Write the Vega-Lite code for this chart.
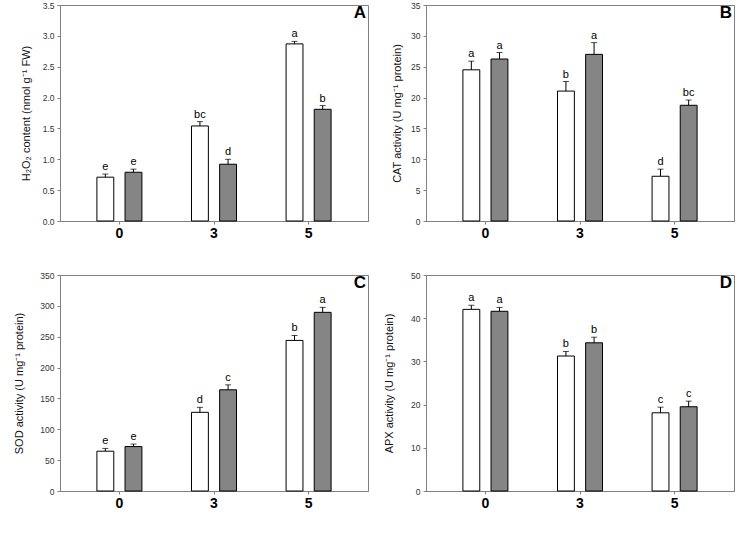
{
  "$schema": "https://vega.github.io/schema/vega-lite/v6.json",
  "padding": {"left": 13, "top": 0, "right": 5, "bottom": 5},
  "background": "#ffffff",
  "config": {
    "font": "Liberation Sans",
    "view": {"stroke": "#808080", "strokeWidth": 1},
    "axis": {"domainColor": "#808080", "tickColor": "#808080", "tickSize": 3, "grid": false, "labelColor": "#333333", "titleColor": "#111111", "labelFontSize": 8.5, "labelPadding": 3},
    "axisX": {"labelAngle": 0, "labelFontSize": 14, "labelFontWeight": "bold", "labelColor": "#000000", "labelPadding": 2, "titleFontSize": 10, "titleFontWeight": "bold", "titlePadding": 6, "title": "storage time(week)"},
    "axisY": {"titleFontSize": 11, "titleFontWeight": "normal"},
    "title": {"fontSize": 17, "fontWeight": "bold", "color": "#000000", "anchor": "end", "orient": "top", "offset": -21, "dx": -2, "frame": "group"}
  },
  "data": {"values": [
    {"panel": "A", "week": "0", "group": "ctrl", "value": 0.71, "upper": 0.76, "letter": "e"},
    {"panel": "A", "week": "0", "group": "trt", "value": 0.79, "upper": 0.84, "letter": "e"},
    {"panel": "A", "week": "3", "group": "ctrl", "value": 1.54, "upper": 1.61, "letter": "bc"},
    {"panel": "A", "week": "3", "group": "trt", "value": 0.92, "upper": 1.0, "letter": "d"},
    {"panel": "A", "week": "5", "group": "ctrl", "value": 2.87, "upper": 2.91, "letter": "a"},
    {"panel": "A", "week": "5", "group": "trt", "value": 1.81, "upper": 1.87, "letter": "b"},
    {"panel": "B", "week": "0", "group": "ctrl", "value": 24.5, "upper": 25.9, "letter": "a"},
    {"panel": "B", "week": "0", "group": "trt", "value": 26.25, "upper": 27.3, "letter": "a"},
    {"panel": "B", "week": "3", "group": "ctrl", "value": 21.05, "upper": 22.6, "letter": "b"},
    {"panel": "B", "week": "3", "group": "trt", "value": 27.0, "upper": 28.9, "letter": "a"},
    {"panel": "B", "week": "5", "group": "ctrl", "value": 7.25, "upper": 8.4, "letter": "d"},
    {"panel": "B", "week": "5", "group": "trt", "value": 18.75, "upper": 19.6, "letter": "bc"},
    {"panel": "C", "week": "0", "group": "ctrl", "value": 64.5, "upper": 69, "letter": "e"},
    {"panel": "C", "week": "0", "group": "trt", "value": 72, "upper": 76, "letter": "e"},
    {"panel": "C", "week": "3", "group": "ctrl", "value": 127.5, "upper": 135.5, "letter": "d"},
    {"panel": "C", "week": "3", "group": "trt", "value": 164, "upper": 172, "letter": "c"},
    {"panel": "C", "week": "5", "group": "ctrl", "value": 244, "upper": 252, "letter": "b"},
    {"panel": "C", "week": "5", "group": "trt", "value": 289.5, "upper": 297.5, "letter": "a"},
    {"panel": "D", "week": "0", "group": "ctrl", "value": 42.05, "upper": 43.0, "letter": "a"},
    {"panel": "D", "week": "0", "group": "trt", "value": 41.6, "upper": 42.5, "letter": "a"},
    {"panel": "D", "week": "3", "group": "ctrl", "value": 31.25, "upper": 32.3, "letter": "b"},
    {"panel": "D", "week": "3", "group": "trt", "value": 34.3, "upper": 35.6, "letter": "b"},
    {"panel": "D", "week": "5", "group": "ctrl", "value": 18.1, "upper": 19.4, "letter": "c"},
    {"panel": "D", "week": "5", "group": "trt", "value": 19.5, "upper": 20.8, "letter": "c"}
  ]},
  "columns": 2,
  "bounds": "flush",
  "spacing": {"row": 54, "column": 58},
  "concat": [
    {
      "width": 308, "height": 216,
      "title": {"text": "A"},
      "transform": [{"filter": "datum.panel === 'A'"}],
      "encoding": {
        "x": {"field": "week", "type": "nominal", "sort": ["0", "3", "5"], "scale": {"paddingInner": 0.524, "paddingOuter": 0.39}},
        "xOffset": {"field": "group", "type": "nominal", "sort": ["ctrl", "trt"], "scale": {"paddingInner": 0.4, "paddingOuter": 0}}
      },
      "layer": [
        {"mark": {"type": "bar", "stroke": "#000000", "strokeWidth": 1},
         "encoding": {
           "y": {"field": "value", "type": "quantitative", "scale": {"domain": [0, 3.5], "nice": false}, "axis": {"title": "H₂O₂ content (nmol g⁻¹ FW)", "values": [0, 0.5, 1, 1.5, 2, 2.5, 3, 3.5], "format": ".1f", "titlePadding": 11}},
           "fill": {"field": "group", "type": "nominal", "scale": {"domain": ["ctrl", "trt"], "range": ["#ffffff", "#858585"]}, "legend": null}}},
        {"mark": {"type": "rule", "color": "#000000"}, "encoding": {"y": {"field": "value", "type": "quantitative", "axis": {"title": "H₂O₂ content (nmol g⁻¹ FW)", "values": [0, 0.5, 1, 1.5, 2, 2.5, 3, 3.5], "format": ".1f", "titlePadding": 11}}, "y2": {"field": "upper"}}},
        {"mark": {"type": "tick", "color": "#000000", "size": 6, "thickness": 1}, "encoding": {"y": {"field": "upper", "type": "quantitative", "axis": {"title": "H₂O₂ content (nmol g⁻¹ FW)", "values": [0, 0.5, 1, 1.5, 2, 2.5, 3, 3.5], "format": ".1f", "titlePadding": 11}}}},
        {"mark": {"type": "text", "dy": -4, "baseline": "alphabetic", "fontSize": 11, "color": "#000000"}, "encoding": {"y": {"field": "upper", "type": "quantitative", "axis": {"title": "H₂O₂ content (nmol g⁻¹ FW)", "values": [0, 0.5, 1, 1.5, 2, 2.5, 3, 3.5], "format": ".1f", "titlePadding": 11}}, "text": {"field": "letter"}}}
      ]
    },
    {
      "width": 308, "height": 216,
      "title": {"text": "B"},
      "transform": [{"filter": "datum.panel === 'B'"}],
      "encoding": {
        "x": {"field": "week", "type": "nominal", "sort": ["0", "3", "5"], "scale": {"paddingInner": 0.524, "paddingOuter": 0.39}},
        "xOffset": {"field": "group", "type": "nominal", "sort": ["ctrl", "trt"], "scale": {"paddingInner": 0.4, "paddingOuter": 0}}
      },
      "layer": [
        {"mark": {"type": "bar", "stroke": "#000000", "strokeWidth": 1},
         "encoding": {
           "y": {"field": "value", "type": "quantitative", "scale": {"domain": [0, 35], "nice": false}, "axis": {"title": "CAT activity (U mg⁻¹ protein)", "values": [0, 5, 10, 15, 20, 25, 30, 35], "titlePadding": 8}},
           "fill": {"field": "group", "type": "nominal", "scale": {"domain": ["ctrl", "trt"], "range": ["#ffffff", "#858585"]}, "legend": null}}},
        {"mark": {"type": "rule", "color": "#000000"}, "encoding": {"y": {"field": "value", "type": "quantitative", "axis": {"title": "CAT activity (U mg⁻¹ protein)", "values": [0, 5, 10, 15, 20, 25, 30, 35], "titlePadding": 8}}, "y2": {"field": "upper"}}},
        {"mark": {"type": "tick", "color": "#000000", "size": 6, "thickness": 1}, "encoding": {"y": {"field": "upper", "type": "quantitative", "axis": {"title": "CAT activity (U mg⁻¹ protein)", "values": [0, 5, 10, 15, 20, 25, 30, 35], "titlePadding": 8}}}},
        {"mark": {"type": "text", "dy": -4, "baseline": "alphabetic", "fontSize": 11, "color": "#000000"}, "encoding": {"y": {"field": "upper", "type": "quantitative", "axis": {"title": "CAT activity (U mg⁻¹ protein)", "values": [0, 5, 10, 15, 20, 25, 30, 35], "titlePadding": 8}}, "text": {"field": "letter"}}}
      ]
    },
    {
      "width": 308, "height": 216,
      "title": {"text": "C"},
      "transform": [{"filter": "datum.panel === 'C'"}],
      "encoding": {
        "x": {"field": "week", "type": "nominal", "sort": ["0", "3", "5"], "scale": {"paddingInner": 0.524, "paddingOuter": 0.39}},
        "xOffset": {"field": "group", "type": "nominal", "sort": ["ctrl", "trt"], "scale": {"paddingInner": 0.4, "paddingOuter": 0}}
      },
      "layer": [
        {"mark": {"type": "bar", "stroke": "#000000", "strokeWidth": 1},
         "encoding": {
           "y": {"field": "value", "type": "quantitative", "scale": {"domain": [0, 350], "nice": false}, "axis": {"title": "SOD activity (U mg⁻¹ protein)", "values": [0, 50, 100, 150, 200, 250, 300, 350], "titlePadding": 15}},
           "fill": {"field": "group", "type": "nominal", "scale": {"domain": ["ctrl", "trt"], "range": ["#ffffff", "#858585"]}, "legend": null}}},
        {"mark": {"type": "rule", "color": "#000000"}, "encoding": {"y": {"field": "value", "type": "quantitative", "axis": {"title": "SOD activity (U mg⁻¹ protein)", "values": [0, 50, 100, 150, 200, 250, 300, 350], "titlePadding": 15}}, "y2": {"field": "upper"}}},
        {"mark": {"type": "tick", "color": "#000000", "size": 6, "thickness": 1}, "encoding": {"y": {"field": "upper", "type": "quantitative", "axis": {"title": "SOD activity (U mg⁻¹ protein)", "values": [0, 50, 100, 150, 200, 250, 300, 350], "titlePadding": 15}}}},
        {"mark": {"type": "text", "dy": -4, "baseline": "alphabetic", "fontSize": 11, "color": "#000000"}, "encoding": {"y": {"field": "upper", "type": "quantitative", "axis": {"title": "SOD activity (U mg⁻¹ protein)", "values": [0, 50, 100, 150, 200, 250, 300, 350], "titlePadding": 15}}, "text": {"field": "letter"}}}
      ]
    },
    {
      "width": 308, "height": 216,
      "title": {"text": "D"},
      "transform": [{"filter": "datum.panel === 'D'"}],
      "encoding": {
        "x": {"field": "week", "type": "nominal", "sort": ["0", "3", "5"], "scale": {"paddingInner": 0.524, "paddingOuter": 0.39}},
        "xOffset": {"field": "group", "type": "nominal", "sort": ["ctrl", "trt"], "scale": {"paddingInner": 0.4, "paddingOuter": 0}}
      },
      "layer": [
        {"mark": {"type": "bar", "stroke": "#000000", "strokeWidth": 1},
         "encoding": {
           "y": {"field": "value", "type": "quantitative", "scale": {"domain": [0, 50], "nice": false}, "axis": {"title": "APX activity (U mg⁻¹ protein)", "values": [0, 10, 20, 30, 40, 50], "titlePadding": 16}},
           "fill": {"field": "group", "type": "nominal", "scale": {"domain": ["ctrl", "trt"], "range": ["#ffffff", "#858585"]}, "legend": null}}},
        {"mark": {"type": "rule", "color": "#000000"}, "encoding": {"y": {"field": "value", "type": "quantitative", "axis": {"title": "APX activity (U mg⁻¹ protein)", "values": [0, 10, 20, 30, 40, 50], "titlePadding": 16}}, "y2": {"field": "upper"}}},
        {"mark": {"type": "tick", "color": "#000000", "size": 6, "thickness": 1}, "encoding": {"y": {"field": "upper", "type": "quantitative", "axis": {"title": "APX activity (U mg⁻¹ protein)", "values": [0, 10, 20, 30, 40, 50], "titlePadding": 16}}}},
        {"mark": {"type": "text", "dy": -4, "baseline": "alphabetic", "fontSize": 11, "color": "#000000"}, "encoding": {"y": {"field": "upper", "type": "quantitative", "axis": {"title": "APX activity (U mg⁻¹ protein)", "values": [0, 10, 20, 30, 40, 50], "titlePadding": 16}}, "text": {"field": "letter"}}}
      ]
    }
  ]
}
